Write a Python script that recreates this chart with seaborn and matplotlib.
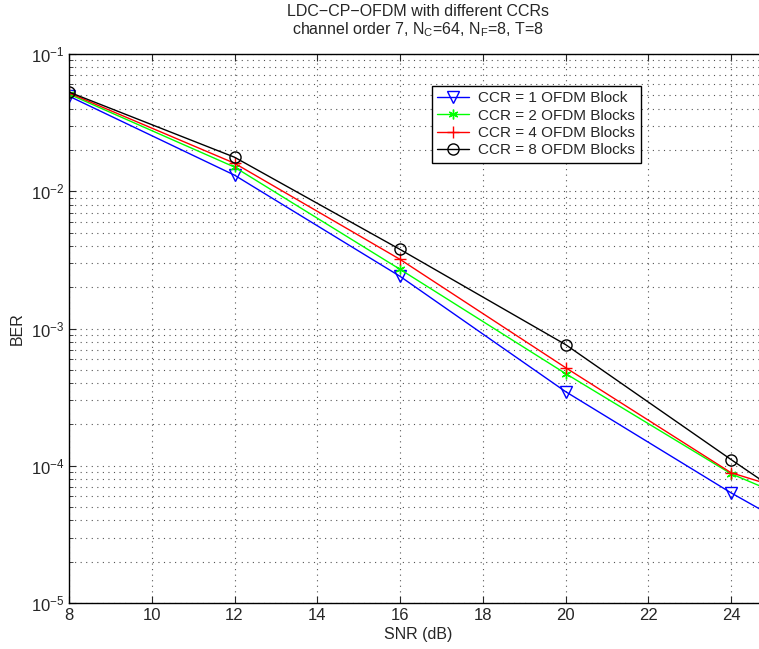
import numpy as np
import pandas as pd
import matplotlib
matplotlib.use("Agg")
import matplotlib.pyplot as plt
from matplotlib.ticker import LogLocator, NullFormatter
import seaborn as sns

snr = [8, 12, 16, 20, 24, 28]
ber_ccr1 = [0.0493, 0.0131, 2.40e-3, 3.47e-4, 6.35e-5, 1.33e-5]
ber_ccr2 = [0.0510, 0.0150, 2.70e-3, 4.70e-4, 8.75e-5, 2.7e-5]
ber_ccr4 = [0.0520, 0.0160, 3.19e-3, 5.19e-4, 8.9e-5, 3.77e-5]
ber_ccr8 = [0.0528, 0.0177, 3.77e-3, 7.64e-4, 1.11e-4, 1.68e-5]
labels = ["CCR = 1 OFDM Block", "CCR = 2 OFDM Blocks",
          "CCR = 4 OFDM Blocks", "CCR = 8 OFDM Blocks"]

sns.set_style("ticks")
plt.rcParams['font.family'] = ['Liberation Sans', 'DejaVu Sans']
plt.rcParams['mathtext.fontset'] = 'custom'
plt.rcParams['mathtext.rm'] = 'Liberation Sans'
plt.rcParams['mathtext.it'] = 'Liberation Sans'

fig = plt.figure(figsize=(7.59, 6.49), dpi=100)
ax = fig.add_axes([69/759, 1-603/649, 1-69/759+0.01, (603-54)/649])

series = [ber_ccr1, ber_ccr2, ber_ccr4, ber_ccr8]
colors = ["#0000ff", "#00ff00", "#ff0000", "#000000"]
markers = ["v", (6, 2, 0), "+", "o"]
msizes = [8, 7, 9, 8]
for ys, c, m, ms, lab in zip(series, colors, markers, msizes, labels):
    df = pd.DataFrame({"SNR": snr, "BER": ys})
    sns.lineplot(data=df, x="SNR", y="BER", ax=ax, color=c, marker=m,
                 markersize=ms, markerfacecolor='none', markeredgecolor=c,
                 markeredgewidth=1.0, linewidth=1.0, label=lab, clip_on=True)

ax.set_yscale('log')
ax.set_xlim(8, 24.86)
ax.set_ylim(1e-5, 1e-1)
ax.set_xticks(np.arange(8, 25, 2))
ax.yaxis.set_major_locator(LogLocator(base=10, numticks=10))
ax.yaxis.set_minor_locator(LogLocator(base=10, subs=np.arange(2, 10), numticks=50))
ax.yaxis.set_minor_formatter(NullFormatter())

ax.grid(True, which='major', axis='both', linestyle=(0, (1, 4)), color='#555555', linewidth=0.8)
ax.grid(True, which='minor', axis='y', linestyle=(0, (1, 4)), color='#555555', linewidth=0.8)
ax.tick_params(which='both', direction='in', top=True, right=False, labelsize=12)
ax.tick_params(which='major', length=5)
ax.tick_params(which='minor', length=3)
ax.spines['right'].set_visible(False)
for s in ['left', 'top', 'bottom']:
    ax.spines[s].set_linewidth(1.0)
    ax.spines[s].set_color('black')

ax.set_xlabel("SNR (dB)", fontsize=11.5, labelpad=3)
ax.set_ylabel("BER", fontsize=11.5, labelpad=4)
ax.set_title("LDC\u2212CP\u2212OFDM with different CCRs\n"
             "channel order 7, N$_\\mathregular{C}$=64, N$_\\mathregular{F}$=8, T=8",
             fontsize=11.5, pad=14, x=(414-69)/690, linespacing=1.1)

leg = ax.legend(loc='upper left', bbox_to_anchor=(0.52, 0.942), frameon=True,
                fancybox=False, edgecolor='black', framealpha=1, fontsize=11,
                handlelength=2.1, borderpad=0.35, labelspacing=0.22, handletextpad=0.6,
                borderaxespad=0)
leg.get_frame().set_linewidth(1.0)

fig.savefig("out.png", dpi=100)
